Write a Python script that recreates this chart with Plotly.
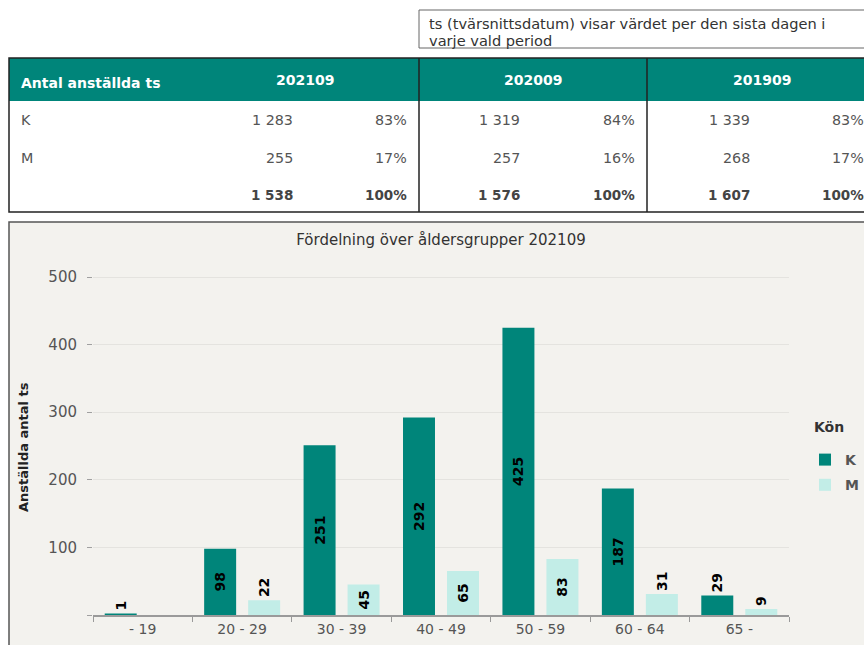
import plotly.graph_objects as go

# ---------------- data ----------------
note_lines = ["ts (tvärsnittsdatum) visar värdet per den sista dagen i", "varje vald period"]

table_title = "Antal anställda ts"
periods = ["202109", "202009", "201909"]
row_labels = ["K", "M"]
count_K = [1283, 1319, 1339]
count_M = [255, 257, 268]
pct_K = [83, 84, 83]
pct_M = [17, 16, 17]
count_total = [1538, 1576, 1607]
pct_total = [100, 100, 100]

chart_title = "Fördelning över åldersgrupper 202109"
age_groups = ["- 19", "20 - 29", "30 - 39", "40 - 49", "50 - 59", "60 - 64", "65 -"]
series_names = ["K", "M"]
values_K = [1, 98, 251, 292, 425, 187, 29]
values_M = [None, 22, 45, 65, 83, 31, 9]
y_tickvals = [0, 100, 200, 300, 400, 500]
y_ticktext = ["", "100", "200", "300", "400", "500"]
y_title = "Anställda antal ts"
legend_title = "Kön"

# ---------------- style ----------------
W, H = 864, 645
FONT = "DejaVu Sans"
TEAL = "#00857a"
LIGHT = "#c2ede7"
PANEL_BG = "#f3f2ee"


def px(x):
    return x / W


def py(y):
    return 1 - y / H


def fmt(v):
    return f"{v:,}".replace(",", " ")


fig = go.Figure()

for name, vals, col in [(series_names[0], values_K, TEAL), (series_names[1], values_M, LIGHT)]:
    fig.add_trace(go.Bar(
        x=age_groups, y=vals, name=name, marker_color=col,
        marker_line_width=0,
        text=["" if v is None else str(v) for v in vals],
        textposition="auto", textangle=-90, insidetextanchor="middle",
        constraintext="none", cliponaxis=False,
        textfont=dict(family=FONT, size=14, color="black", weight="bold"),
        legendgroup=name, hoverinfo="x+y+name",
    ))

shapes = []
annotations = []

# note box
shapes.append(dict(type="rect", xref="paper", yref="paper", x0=px(419), x1=px(880),
                   y0=py(10), y1=py(48), line=dict(color="#666666", width=1),
                   fillcolor="white", layer="below"))
for i, line in enumerate(note_lines):
    annotations.append(dict(text=line, xref="paper", yref="paper", x=px(427), y=py([23, 40][i]),
                            xanchor="left", yanchor="middle", showarrow=False,
                            font=dict(family=FONT, size=14.6, color="#333333")))

# table
TL, TR, TT, HB, TB = 9, 880, 58, 101, 212
shapes.append(dict(type="rect", xref="paper", yref="paper", x0=px(TL), x1=px(TR), y0=py(TT), y1=py(HB),
                   fillcolor=TEAL, line=dict(width=0), layer="below"))
shapes.append(dict(type="rect", xref="paper", yref="paper", x0=px(TL), x1=px(TR), y0=py(TT), y1=py(TB),
                   fillcolor="rgba(0,0,0,0)", line=dict(color="#222222", width=1.5), layer="below"))
for xd in [419, 647]:
    shapes.append(dict(type="line", xref="paper", yref="paper", x0=px(xd), x1=px(xd), y0=py(TT), y1=py(TB),
                       line=dict(color="#222222", width=1.5), layer="below"))

hdr_font = dict(family=FONT, size=14, color="white", weight="bold")
annotations.append(dict(text=table_title, xref="paper", yref="paper", x=px(19), y=py(82.5),
                        xanchor="left", yanchor="middle", showarrow=False, font=hdr_font))
period_centers = [305, 533, 762]
for p, xc in zip(periods, period_centers):
    annotations.append(dict(text=p, xref="paper", yref="paper", x=px(xc), y=py(80),
                            xanchor="center", yanchor="middle", showarrow=False, font=hdr_font))

row_y = [120.5, 158, 195]
count_right = [295, 522, 752]
pct_right = [409, 637, 866]
body_font = dict(family=FONT, size=14.3, color="#555555")
bold_font = dict(family=FONT, size=13.5, color="#444444", weight="bold")
for lbl, yy in zip(row_labels, row_y[:2]):
    annotations.append(dict(text=lbl, xref="paper", yref="paper", x=px(19), y=py(yy),
                            xanchor="left", yanchor="middle", showarrow=False, font=body_font))
rows = [(count_K, pct_K, body_font), (count_M, pct_M, body_font), (count_total, pct_total, bold_font)]
for (cnts, pcts, f), yy in zip(rows, row_y):
    for c, p, xc, xp in zip(cnts, pcts, count_right, pct_right):
        annotations.append(dict(text=fmt(c), xref="paper", yref="paper", x=px(xc), y=py(yy),
                                xanchor="right", yanchor="middle", showarrow=False, font=f))
        annotations.append(dict(text=f"{p}%", xref="paper", yref="paper", x=px(xp), y=py(yy),
                                xanchor="right", yanchor="middle", showarrow=False, font=f))

# chart panel
shapes.append(dict(type="rect", xref="paper", yref="paper", x0=px(9), x1=px(880), y0=py(222), y1=py(700),
                   fillcolor=PANEL_BG, line=dict(color="#555555", width=1.5), layer="below"))

annotations.append(dict(text=y_title, xref="paper", yref="paper", x=px(23), y=py(447),
                        xanchor="center", yanchor="middle", textangle=-90, showarrow=False,
                        font=dict(family=FONT, size=13, color="#222222", weight="bold")))

# legend title
annotations.append(dict(text=legend_title, xref="paper", yref="paper", x=px(812), y=py(427),
                        xanchor="left", yanchor="middle", showarrow=False,
                        font=dict(family=FONT, size=14, color="#333333", weight="bold")))

fig.update_layout(
    width=W, height=H, autosize=False,
    margin=dict(l=0, r=0, t=0, b=0),
    paper_bgcolor="white", plot_bgcolor="rgba(0,0,0,0)",
    font=dict(family=FONT, color="#555555"),
    barmode="group", bargap=0.115, bargroupgap=0.273,
    title=dict(text=chart_title, x=px(441), y=py(240), xanchor="center", yanchor="middle",
               font=dict(family=FONT, size=15, color="#333333")),
    xaxis=dict(domain=[px(93), px(789)], showline=True, linecolor="#9a9a9a", linewidth=2,
               ticks="outside", tickson="boundaries", ticklen=5, tickcolor="#9a9a9a", tickwidth=1,
               showgrid=False, tickfont=dict(family=FONT, size=14, color="#555555"), fixedrange=True),
    yaxis=dict(domain=[py(615), py(263.5)], range=[0, 520], tickvals=y_tickvals, ticktext=y_ticktext,
               ticks="outside", ticklen=5, tickcolor="#a0a0a0", tickwidth=1, ticklabelstandoff=7,
               showgrid=True, gridcolor="#e4e3df", gridwidth=1, zeroline=False, showline=False,
               tickfont=dict(family=FONT, size=15, color="#555555"), fixedrange=True),
    legend=dict(x=px(805), y=py(444), xanchor="left", yanchor="top",
                font=dict(family=FONT, size=14, color="#555555", weight="bold"),
                traceorder="grouped", tracegroupgap=4, bgcolor="rgba(0,0,0,0)"),
    shapes=shapes, annotations=annotations,
)

fig.write_html("out.html", config={"displayModeBar": False},
               post_script="document.body.style.margin='0';document.body.style.overflow='hidden';")
